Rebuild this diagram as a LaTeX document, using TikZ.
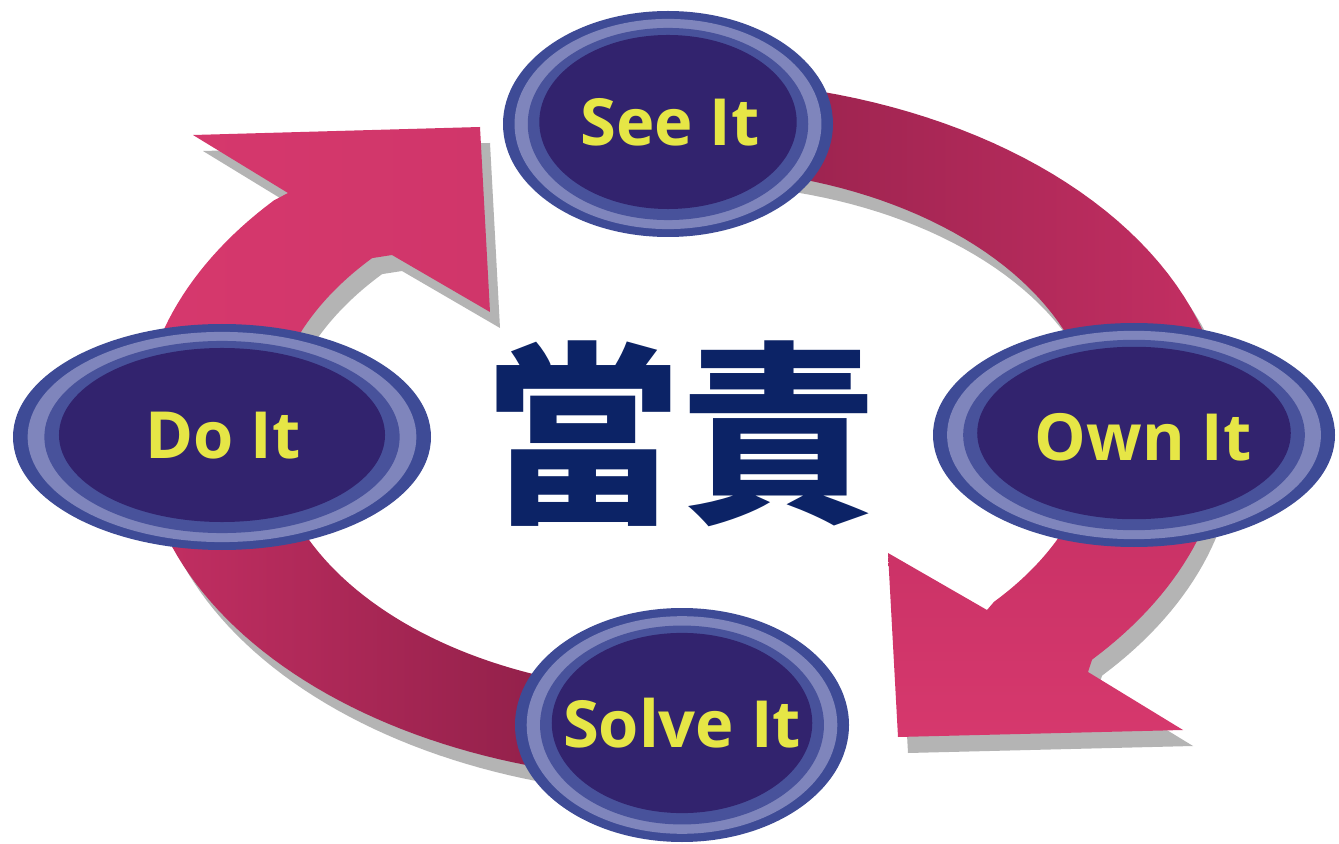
\documentclass[tikz,border=0pt]{standalone}
\usepackage{fontspec}
\newfontfamily\labelfont{Open Sans}
\newfontfamily\cjk{Noto Sans CJK TC}

\definecolor{ringdark}{HTML}{8A1E46}
\definecolor{ringmid}{HTML}{C42F63}
\definecolor{ringpink}{HTML}{D6386D}
\definecolor{shadowgray}{HTML}{B4B4B4}
\definecolor{bubbleedge}{HTML}{3E4B96}
\definecolor{bubblelight}{HTML}{7F85BC}
\definecolor{bubbleband}{HTML}{48529B}
\definecolor{bubblenavy}{HTML}{32236E}
\definecolor{labelyellow}{HTML}{E6E646}
\definecolor{titlenavy}{HTML}{0C2366}

\tikzset{
  bubbletext/.style={text=labelyellow, inner sep=0pt,
    font=\labelfont\bfseries\fontsize{37}{40}\selectfont},
  titletext/.style={text=titlenavy, inner sep=0pt,
    font=\cjk\bfseries\fontsize{111}{120}\selectfont},
  ringshadow/.style={fill=shadowgray}
}

% ring pieces, outer edge then inner edge back
\newcommand{\ringtop}{plot[domain=100:0,samples=50] ({683+542*cos(\x)},{430-350*sin(\x)})
  -- plot[domain=0:100,samples=50] ({683+412*cos(\x)},{430-262*sin(\x)}) -- cycle}
\newcommand{\ringright}{plot[domain=0:-41,samples=30] ({683+542*cos(\x)},{430-350*sin(\x)})
  -- (1088,672) -- (1183,730) -- (898,737) -- (888,553) -- (987,610)
  -- plot[domain=-41:0,samples=30] ({683+412*cos(\x)},{430-262*sin(\x)}) -- cycle}
\newcommand{\ringbottom}{plot[domain=-100:-180,samples=50] ({683+542*cos(\x)},{430-350*sin(\x)})
  -- plot[domain=-180:-100,samples=50] ({683+412*cos(\x)},{430-262*sin(\x)}) -- cycle}
\newcommand{\ringleft}{plot[domain=180:139,samples=30] ({683+542*cos(\x)},{430-350*sin(\x)})
  -- (288,193) -- (193,135) -- (480,127) -- (490,312) -- (392,255)
  -- plot[domain=139:180,samples=30] ({683+412*cos(\x)},{430-262*sin(\x)}) -- cycle}

\begin{document}
\begin{tikzpicture}[x=0.02cm, y=-0.02cm]
  \fill[white] (0,0) rectangle (1339,844);
  \useasboundingbox (0,0) rectangle (1339,844);

  \begin{scope}[shift={(10,16)}]
    \fill[ringshadow] \ringtop;
    \fill[ringshadow] \ringright;
    \fill[ringshadow] \ringbottom;
    \fill[ringshadow] \ringleft;
  \end{scope}

  \shade[left color=ringdark, right color=ringmid] \ringtop;
  \shade[top color=ringmid, bottom color=ringpink] \ringright;
  \shade[left color=ringmid, right color=ringdark] \ringbottom;
  \shade[left color=ringpink, right color=ringpink!92!ringdark] \ringleft;

  \node[titletext] (title) at (681,434) {當責};

  \foreach \nm/\cx/\cy/\rx/\ry/\tx/\ty/\lbl in {
      seeit/668/124/165/113/670/122/See It,
      ownit/1134/435/201/112/1143/437/Own It,
      doit/222/437/209/113/223/436/Do It,
      solveit/682/725/167/117/682/723/Solve It}{
    \fill[bubbleedge] (\cx,\cy) ellipse [x radius=\rx, y radius=\ry];
    \fill[bubblelight] (\cx,\cy) ellipse [x radius=0.93*\rx, y radius=0.93*\ry];
    \fill[bubbleband] (\cx,\cy) ellipse [x radius=0.85*\rx, y radius=0.85*\ry];
    \fill[bubblenavy] (\cx,\cy-2) ellipse [x radius=0.78*\rx, y radius=0.77*\ry];
    \node[bubbletext] (\nm) at (\tx,\ty) {\lbl};
  }
\end{tikzpicture}
\end{document}
